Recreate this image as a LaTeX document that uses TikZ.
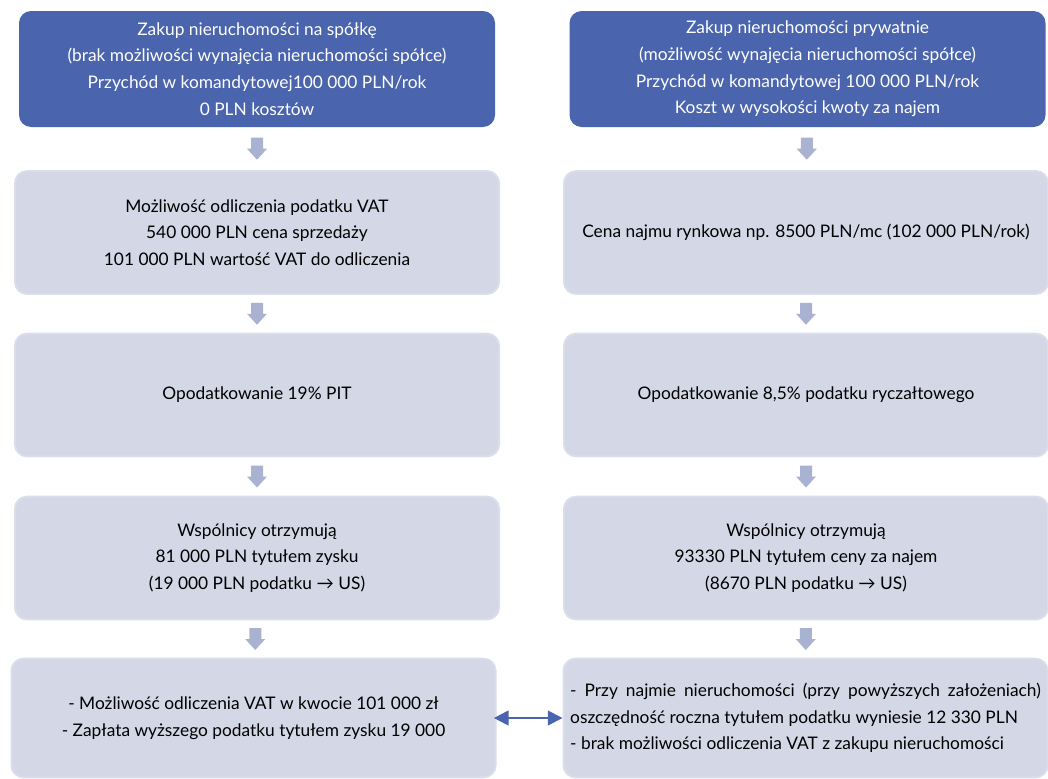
\documentclass[tikz,border=0pt]{standalone}
\usepackage{fontspec}
\setmainfont{Lato}
\usepackage{tikz}
\usetikzlibrary{calc,arrows.meta}
\definecolor{niebieski}{HTML}{4A65AD}
\definecolor{szary}{HTML}{D4D7E6}
\definecolor{szaryram}{HTML}{DADDEA}
\definecolor{szarystrz}{HTML}{A9B2D1}
\def\strzalka(#1)(#2){\fill[szarystrz] ($(#1)!0.5!(#2)+(-6,-11)$) -- ++(12,0) -- ++(0,11) -- ++(4,0) -- ++(-10,11) -- ++(-10,-11) -- ++(4,0) -- cycle;}

\begin{document}
\begin{tikzpicture}[x=0.75pt,y=-0.75pt,
		naglowek/.style={fill=niebieski, text=white, rounded corners=9pt, minimum width=357pt, minimum height=87pt, align=center, inner sep=0pt},
		etap/.style={fill=szary, draw=szaryram, line width=1.5pt, rounded corners=9pt, minimum width=363pt, minimum height=92pt, align=center, inner sep=0pt},
		dwustrz/.style={niebieski, line width=1.5pt, {Triangle[length=11pt,width=11pt]}-{Triangle[length=11pt,width=11pt]}, shorten <=-2pt}]
			%%%%% START %%%%%
			\useasboundingbox (0, 0) rectangle (1048, 778);
			\tikzset{every node/.append style={font=\fontsize{13}{20}\selectfont}}
			
			% lewa kolumna - spolka
			\node[naglowek] (zakupL) at (257, 69) {Zakup nieruchomości na spółkę\\(brak możliwości wynajęcia nieruchomości spółce)\\Przychód w komandytowej100 000 PLN/rok\\0 PLN kosztów};
			\node[etap] (vatL) at (257, 232.5) {Możliwość odliczenia podatku VAT\\540 000 PLN cena sprzedaży\\101 000 PLN wartość VAT do odliczenia};
			\node[etap] (podatekL) at (257, 395) {Opodatkowanie 19\% PIT};
			\node[etap] (wspolnicyL) at (257, 558) {Wspólnicy otrzymują\\81 000 PLN tytułem zysku\\(19 000 PLN podatku → US)};
			\node[etap, minimum height=89pt] (wnioskiL) at (253.5, 718) {- Możliwość odliczenia VAT w kwocie 101 000 zł\\- Zapłata wyższego podatku tytułem zysku 19 000};
			
			% prawa kolumna - prywatnie
			\node[naglowek] (zakupR) at (807.5, 69) {Zakup nieruchomości prywatnie\\(możliwość wynajęcia nieruchomości spółce)\\Przychód w komandytowej 100 000 PLN/rok\\Koszt w wysokości kwoty za najem};
			\node[etap] (najemR) at (806, 232.5) {Cena najmu rynkowa np. 8500 PLN/mc (102 000 PLN/rok)};
			\node[etap] (podatekR) at (806, 395) {Opodatkowanie 8,5\% podatku ryczałtowego};
			\node[etap] (wspolnicyR) at (806, 558) {Wspólnicy otrzymują\\93330 PLN tytułem ceny za najem\\(8670 PLN podatku → US)};
			\node[etap, minimum height=89pt, align=left] (wnioskiR) at (805.5, 718) {\makebox[353pt][s]{- Przy najmie nieruchomości (przy powyższych założeniach)}\\oszczędność roczna tytułem podatku wyniesie 12 330 PLN\\- brak możliwości odliczenia VAT z zakupu nieruchomości};
			
			% strzalki w dol
			\strzalka(zakupL.south)(vatL.north)
			\strzalka(vatL.south)(podatekL.north)
			\strzalka(podatekL.south)(wspolnicyL.north)
			\strzalka(wspolnicyL.south)(wnioskiL.north)
			\strzalka(zakupR.south)(najemR.north)
			\strzalka(najemR.south)(podatekR.north)
			\strzalka(podatekR.south)(wspolnicyR.north)
			\strzalka(wspolnicyR.south)(wnioskiR.north)
			
			\draw[dwustrz] (wnioskiL.east) -- (wnioskiR.west);
			%%%%% END %%%%%
\end{tikzpicture}
\end{document}
